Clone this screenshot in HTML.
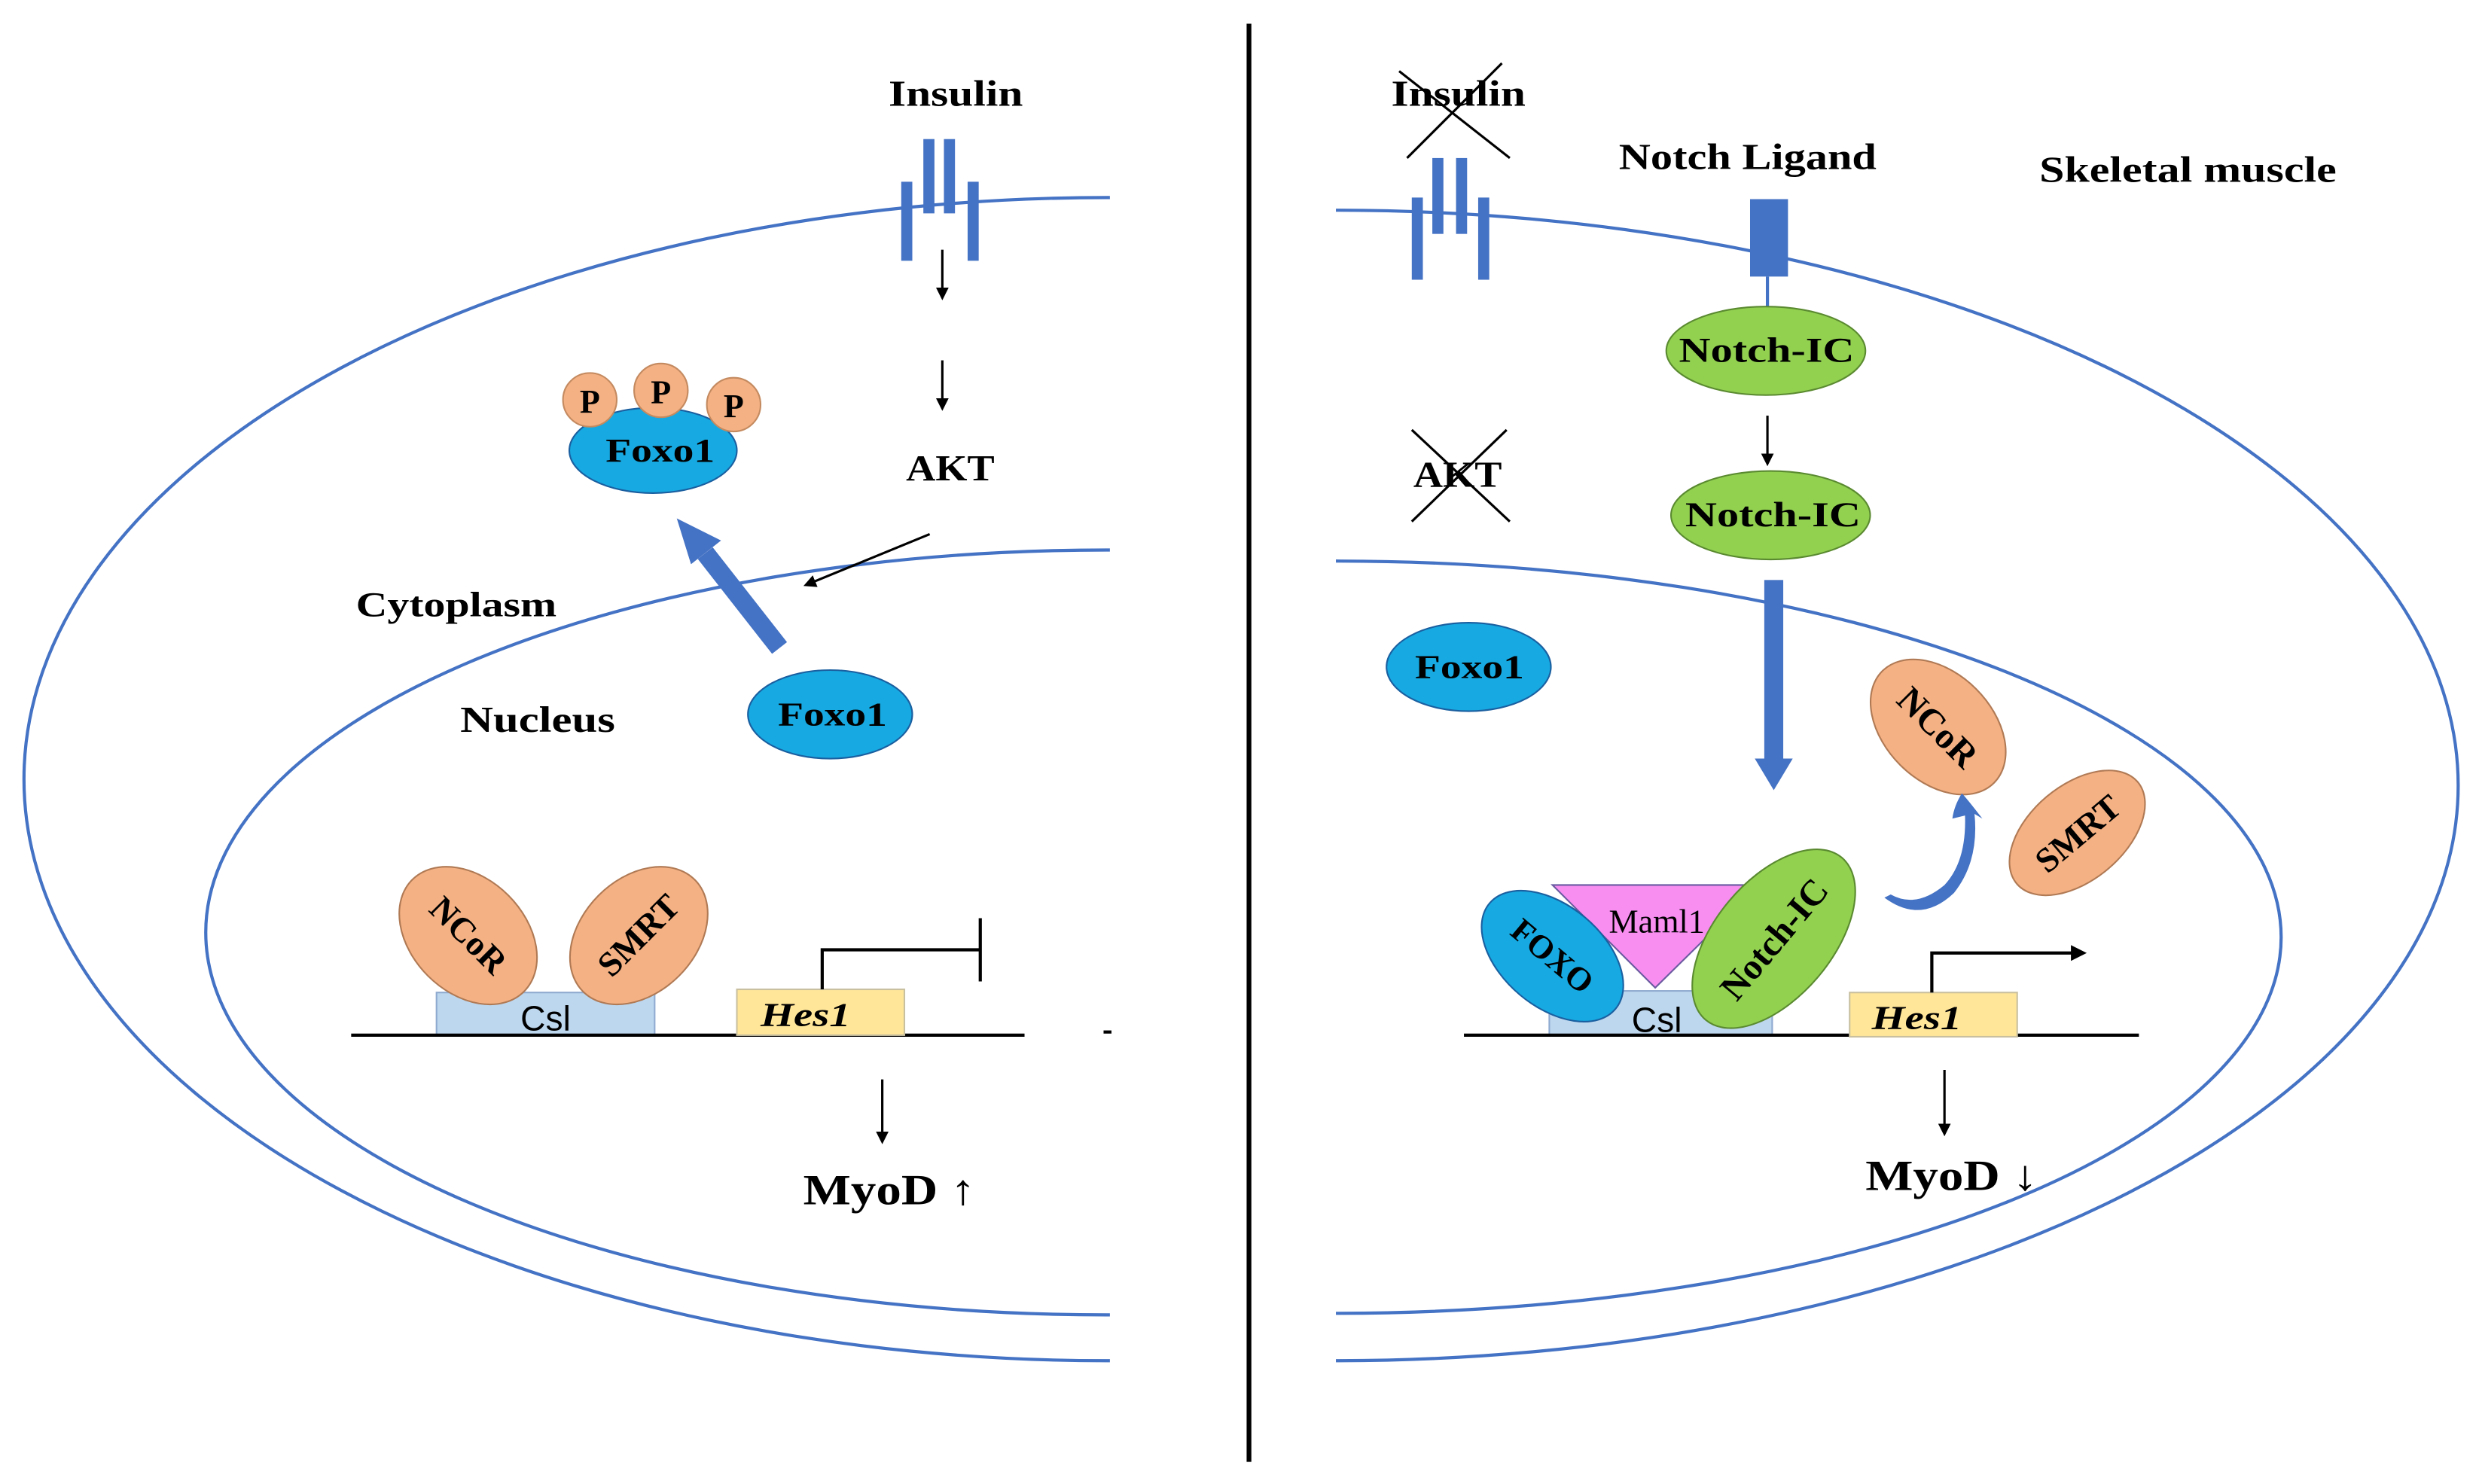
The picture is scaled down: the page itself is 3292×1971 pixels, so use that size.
<!DOCTYPE html>
<html><head><meta charset="utf-8"><style>html,body{margin:0;padding:0;background:#fff}svg{display:block}</style></head>
<body>
<svg width="3292" height="1971" viewBox="0 0 1568 939" xmlns="http://www.w3.org/2000/svg" font-family="Liberation Serif, serif" font-weight="bold">
<defs>
<marker id="ah" markerWidth="8" markerHeight="8" refX="6" refY="4" orient="auto" markerUnits="userSpaceOnUse"><path d="M0,0 L8,4 L0,8 Z" fill="#000"/></marker>
<clipPath id="cl"><rect x="0" y="0" width="702" height="939"/></clipPath>
<clipPath id="cr"><rect x="845" y="0" width="723" height="939"/></clipPath>
</defs>
<rect width="1568" height="939" fill="#fff"/>
<g fill="none" stroke="#4472C4" stroke-width="2">
<g clip-path="url(#cl)">
<ellipse cx="700" cy="493" rx="685" ry="368"/>
<ellipse cx="700" cy="590" rx="570" ry="242"/>
</g>
<g clip-path="url(#cr)">
<ellipse cx="845" cy="497" rx="710" ry="364"/>
<ellipse cx="845" cy="593" rx="598" ry="238"/>
</g>
</g>
<line x1="790" y1="15" x2="790" y2="925" stroke="#000" stroke-width="3"/>
<!-- LEFT -->
<text x="562" y="67" font-size="23" textLength="85" lengthAdjust="spacingAndGlyphs">Insulin</text>
<g fill="#4472C4">
<rect x="570" y="115" width="7" height="50"/><rect x="584" y="88" width="7" height="47"/><rect x="597" y="88" width="7" height="47"/><rect x="612" y="115" width="7" height="50"/>
</g>
<g stroke="#000" stroke-width="1.5" marker-end="url(#ah)">
<line x1="596" y1="158" x2="596" y2="188"/>
<line x1="596" y1="228" x2="596" y2="258"/>
<line x1="588" y1="338" x2="510" y2="370"/>
<line x1="558" y1="683" x2="558" y2="722"/>
<line x1="1118" y1="263" x2="1118" y2="293"/>
<line x1="1230" y1="677" x2="1230" y2="717"/>
</g>
<text x="573" y="304" font-size="23" textLength="56" lengthAdjust="spacingAndGlyphs">AKT</text>
<ellipse cx="413" cy="285" rx="53" ry="27" fill="#17A9E1" stroke="#1a5fa0" stroke-width="1"/>
<g fill="#F4B183" stroke="#c48a60" stroke-width="1">
<circle cx="373" cy="253" r="17"/><circle cx="418" cy="247" r="17"/><circle cx="464" cy="256" r="17"/>
</g>
<g font-size="21" text-anchor="middle"><text x="373" y="261">P</text><text x="418" y="255">P</text><text x="464" y="264">P</text></g>
<text x="383" y="292" font-size="21" textLength="69" lengthAdjust="spacingAndGlyphs">Foxo1</text>
<line x1="493" y1="410" x2="446" y2="350" stroke="#4472C4" stroke-width="12"/>
<polygon points="428,328 456,342 437,357" fill="#4472C4"/>
<text x="225" y="390" font-size="22" textLength="127" lengthAdjust="spacingAndGlyphs">Cytoplasm</text>
<text x="291" y="463" font-size="23" textLength="98" lengthAdjust="spacingAndGlyphs">Nucleus</text>
<ellipse cx="525" cy="452" rx="52" ry="28" fill="#17A9E1" stroke="#1a5fa0" stroke-width="1"/>
<text x="492" y="459" font-size="21" textLength="69" lengthAdjust="spacingAndGlyphs">Foxo1</text>
<rect x="276" y="628" width="138" height="27" fill="#BDD7EE" stroke="#8faad0" stroke-width="1"/>
<g transform="translate(296,592) rotate(45)"><ellipse rx="50" ry="36" fill="#F4B183" stroke="#b07a55" stroke-width="1"/><text y="7" font-size="22" text-anchor="middle">NCoR</text></g>
<g transform="translate(404,592) rotate(-45)"><ellipse rx="50" ry="36" fill="#F4B183" stroke="#b07a55" stroke-width="1"/><text y="7" font-size="22" text-anchor="middle">SMRT</text></g>
<text x="345" y="652" font-size="22" font-weight="normal" font-family="Liberation Sans, sans-serif" text-anchor="middle">Csl</text>
<line x1="222" y1="655" x2="648" y2="655" stroke="#000" stroke-width="2"/>
<rect x="466" y="626" width="106" height="29" fill="#FFE699" stroke="#c9c0a0" stroke-width="1"/>
<text x="481" y="649" font-size="21" font-style="italic" textLength="57" lengthAdjust="spacingAndGlyphs">Hes1</text>
<polyline points="520,626 520,601 620,601" fill="none" stroke="#000" stroke-width="2"/>
<line x1="620" y1="581" x2="620" y2="621" stroke="#000" stroke-width="2"/>
<line x1="698" y1="653" x2="703" y2="653" stroke="#000" stroke-width="2"/>
<text x="508" y="762" font-size="27" textLength="109" lengthAdjust="spacingAndGlyphs">MyoD ↑</text>
<!-- RIGHT -->
<text x="880" y="67" font-size="23" textLength="85" lengthAdjust="spacingAndGlyphs">Insulin</text>
<g stroke="#000" stroke-width="1.5">
<line x1="885" y1="45" x2="955" y2="100"/><line x1="890" y1="100" x2="950" y2="40"/>
<line x1="893" y1="272" x2="955" y2="330"/><line x1="893" y1="330" x2="953" y2="272"/>
</g>
<g fill="#4472C4">
<rect x="893" y="125" width="7" height="52"/><rect x="906" y="100" width="7" height="48"/><rect x="921" y="100" width="7" height="48"/><rect x="935" y="125" width="7" height="52"/>
</g>
<text x="894" y="308" font-size="23" textLength="56" lengthAdjust="spacingAndGlyphs">AKT</text>
<text x="1024" y="107" font-size="23" textLength="163" lengthAdjust="spacingAndGlyphs">Notch Ligand</text>
<text x="1290" y="115" font-size="23" textLength="188" lengthAdjust="spacingAndGlyphs">Skeletal muscle</text>
<rect x="1107" y="126" width="24" height="49" fill="#4472C4"/>
<line x1="1118" y1="175" x2="1118" y2="196" stroke="#4472C4" stroke-width="2"/>
<ellipse cx="1117" cy="222" rx="63" ry="28" fill="#92D050" stroke="#5a8a30" stroke-width="1"/>
<text x="1062" y="229" font-size="22" textLength="111" lengthAdjust="spacingAndGlyphs">Notch-IC</text>
<ellipse cx="1120" cy="326" rx="63" ry="28" fill="#92D050" stroke="#5a8a30" stroke-width="1"/>
<text x="1066" y="333" font-size="22" textLength="111" lengthAdjust="spacingAndGlyphs">Notch-IC</text>
<ellipse cx="929" cy="422" rx="52" ry="28" fill="#17A9E1" stroke="#1a5fa0" stroke-width="1"/>
<text x="895" y="429" font-size="21" textLength="69" lengthAdjust="spacingAndGlyphs">Foxo1</text>
<rect x="1116" y="367" width="12" height="115" fill="#4472C4"/>
<polygon points="1110,480 1134,480 1122,500" fill="#4472C4"/>
<g transform="translate(1226,460) rotate(45)"><ellipse rx="50" ry="34" fill="#F4B183" stroke="#b07a55" stroke-width="1"/><text y="8" font-size="23" text-anchor="middle">NCoR</text></g>
<g transform="translate(1314,527) rotate(-40)"><ellipse rx="50" ry="30" fill="#F4B183" stroke="#b07a55" stroke-width="1"/><text y="8" font-size="22" text-anchor="middle">SMRT</text></g>
<path d="M1192,568 Q1215,585 1236,565 Q1252,545 1249,515 L1254,518 Q1244,505 1241,502 Q1236,510 1235,518 L1243,516 Q1244,545 1230,560 Q1212,575 1196,566 Z" fill="#4472C4"/>
<rect x="980" y="627" width="141" height="28" fill="#BDD7EE" stroke="#8faad0" stroke-width="1"/>
<polygon points="982,560 1113,560 1047,625" fill="#F78EF0" stroke="#6a5aa0" stroke-width="1"/>
<text x="1048" y="590" font-size="21" font-weight="normal" text-anchor="middle">Maml1</text>
<g transform="translate(982,605) rotate(40)"><ellipse rx="52" ry="32" fill="#17A9E1" stroke="#1a5fa0" stroke-width="1"/><text y="7" font-size="21" text-anchor="middle">FOXO</text></g>
<g transform="translate(1122,594) rotate(-50)"><ellipse rx="67" ry="37" fill="#92D050" stroke="#5a8a30" stroke-width="1"/><text y="8" font-size="23" text-anchor="middle">Notch-IC</text></g>
<text x="1048" y="653" font-size="22" font-weight="normal" font-family="Liberation Sans, sans-serif" text-anchor="middle">Csl</text>
<line x1="926" y1="655" x2="1353" y2="655" stroke="#000" stroke-width="2"/>
<rect x="1170" y="628" width="106" height="28" fill="#FFE699" stroke="#c9c0a0" stroke-width="1"/>
<text x="1184" y="651" font-size="21" font-style="italic" textLength="57" lengthAdjust="spacingAndGlyphs">Hes1</text>
<polyline points="1222,628 1222,603 1312,603" fill="none" stroke="#000" stroke-width="2"/>
<polygon points="1310,598 1320,603 1310,608" fill="#000"/>
<text x="1180" y="753" font-size="27" textLength="109" lengthAdjust="spacingAndGlyphs">MyoD ↓</text>
</svg>
</body></html>
